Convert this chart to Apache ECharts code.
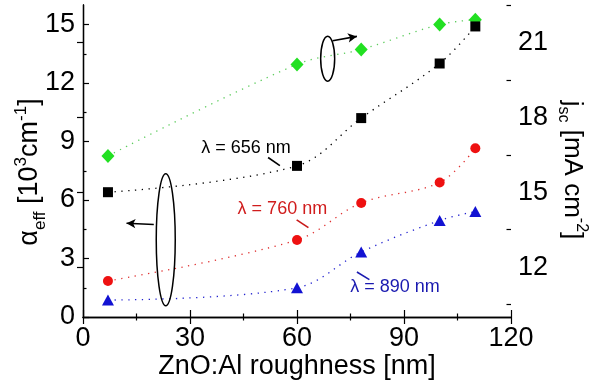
<!DOCTYPE html>
<html><head><meta charset="utf-8">
<script src="https://cdn.jsdelivr.net/npm/echarts@6/dist/echarts.min.js"></script>
<style>html,body{margin:0;padding:0;background:#fff}#c{width:600px;height:391px}</style>
</head><body><div id="c"></div>
<script>
// ---- data ----
const roughness = [7, 60, 78, 100, 110];
const alpha656 = [6.4, 7.75, 10.2, 13.0, 14.9];
const alpha760 = [1.85, 3.95, 5.85, 6.9, 8.65];
const alpha890 = [0.87, 1.5, 3.33, 4.95, 5.41];
const jscValues = [16.45, 20.12, 20.72, 21.72, 21.91];
const leftTicks = [0, 3, 6, 9, 12, 15];
const leftMinor = [1.5, 4.5, 7.5, 10.5, 13.5];
const rightTicks = [12, 15, 18, 21];
const rightMinor = [10.5, 13.5, 16.5, 19.5, 22.5];
const seriesNames = ['λ = 656 nm', 'λ = 760 nm', 'λ = 890 nm', 'jsc'];

const FONT = 'Liberation Sans, Arial, sans-serif';
const pairs = v => roughness.map((x, i) => [x, v[i]]);

const chart = echarts.init(document.getElementById('c'), null, {renderer: 'canvas'});

const axisLine = {show: true, lineStyle: {color: '#000', width: 1.3}};
const lbl = {fontFamily: FONT, fontSize: 27, color: '#000'};

function dotted(color) { return {color: color, width: 1.3, type: [1.3, 5.5]}; }

const option = {
  animation: false,
  backgroundColor: '#fff',
  grid: {left: 83, right: 89, top: 5, bottom: 74, show: false},
  xAxis: [
    {type: 'value', min: 0, max: 120, interval: 30, position: 'bottom',
     axisLine: axisLine, axisTick: {inside: true, length: 7, lineStyle: {color: '#000', width: 1.2}},
     minorTick: {show: true, splitNumber: 2, length: 3.5, lineStyle: {color: '#000', width: 1.2}},
     axisLabel: Object.assign({margin: 8}, lbl), splitLine: {show: false}},
    {type: 'value', min: 0, max: 120, interval: 30, position: 'top',
     axisLine: axisLine, axisTick: {inside: true, length: 7, lineStyle: {color: '#000', width: 1.2}},
     minorTick: {show: true, splitNumber: 2, length: 3.5, lineStyle: {color: '#000', width: 1.2}},
     axisLabel: {show: false}, splitLine: {show: false}}
  ],
  yAxis: [
    {type: 'value', min: 0, max: 16, position: 'left',
     axisLine: axisLine,
     axisTick: {inside: true, length: 6, customValues: leftTicks, lineStyle: {color: '#000', width: 1.2}},
     axisLabel: Object.assign({margin: 8, customValues: leftTicks}, lbl), splitLine: {show: false}},
    {type: 'value', min: 10, max: 22.5, position: 'right',
     axisLine: axisLine,
     axisTick: {inside: true, length: 6, customValues: rightTicks, lineStyle: {color: '#000', width: 1.2}},
     axisLabel: Object.assign({margin: 7, customValues: rightTicks}, lbl), splitLine: {show: false}},
    {type: 'value', min: 10, max: 22.5, position: 'right',
     axisLine: {show: false},
     axisTick: {inside: true, length: 4.5, customValues: rightMinor, lineStyle: {color: '#000', width: 1.2}},
     axisLabel: {show: false}, splitLine: {show: false}},
    {type: 'value', min: 0, max: 16, position: 'left',
     axisLine: {show: false},
     axisTick: {inside: true, length: 3.5, customValues: leftMinor, lineStyle: {color: '#000', width: 1.2}},
     axisLabel: {show: false}, splitLine: {show: false}}
  ],
  series: [
    {name: seriesNames[3], type: 'line', xAxisIndex: 0, yAxisIndex: 1, data: pairs(jscValues),
     smooth: 0.35, symbol: 'diamond', symbolSize: [13, 14],
     itemStyle: {color: '#22e022'}, lineStyle: dotted('#5ccc5c'), z: 3},
    {name: seriesNames[0], type: 'line', xAxisIndex: 0, yAxisIndex: 0, data: pairs(alpha656),
     smooth: 0.35, symbol: 'rect', symbolSize: 10,
     itemStyle: {color: '#000'}, lineStyle: dotted('#000'), z: 3,
     markLine: {silent: true, animation: false, symbol: ['none', 'arrow'], symbolSize: [7, 9],
       label: {show: false}, lineStyle: {color: '#000', type: 'solid', width: 1.6},
       data: [
         [{coord: [70.0, 14.17]}, {coord: [76.8, 14.39]}],
         [{coord: [19.85, 4.74]}, {coord: [12.2, 4.81]}],
         [{coord: [51.9, 8.18], symbol: 'none'}, {coord: [55.2, 7.76], symbol: 'none'}]
       ]}},
    {name: seriesNames[1], type: 'line', xAxisIndex: 0, yAxisIndex: 0, data: pairs(alpha760),
     smooth: 0.35, symbol: 'circle', symbolSize: 10,
     itemStyle: {color: '#ee1111'}, lineStyle: dotted('#e03030'), z: 3,
     markLine: {silent: true, animation: false, symbol: 'none',
       label: {show: false}, lineStyle: {color: '#c81818', type: 'solid', width: 1.6},
       data: [[{coord: [59.9, 4.98]}, {coord: [63.2, 4.58]}]]}},
    {name: seriesNames[2], type: 'line', xAxisIndex: 0, yAxisIndex: 0, data: pairs(alpha890),
     smooth: 0.35, symbol: 'triangle', symbolSize: [12, 11],
     itemStyle: {color: '#1212d2'}, lineStyle: dotted('#2222d0'), z: 3,
     markLine: {silent: true, animation: false, symbol: 'none',
       label: {show: false}, lineStyle: {color: '#1a1ab0', type: 'solid', width: 1.6},
       data: [[{coord: [76.8, 2.31]}, {coord: [80.3, 1.92]}]]}}
  ]
};
chart.setOption(option);

// annotations anchored in data units (left axis)
const annoTexts = [
  {text: 'λ = 656 nm', at: [45.7, 8.67], color: '#000'},
  {text: 'λ = 760 nm', at: [55.9, 5.56], color: '#d01c1c'},
  {text: 'λ = 890 nm', at: [87.5, 1.55], color: '#1a1ab0'}
];
const annoEllipses = [
  {at: [68.6, 13.25], rx: 7, ry: 22.5},
  {at: [23.2, 3.96], rx: 9.5, ry: 66}
];
const px = p => chart.convertToPixel({xAxisIndex: 0, yAxisIndex: 0}, p);
const g = [];
annoTexts.forEach(a => {
  const p = px(a.at);
  g.push({type: 'text', x: p[0], y: p[1], z: 10,
    style: {text: a.text, fill: a.color, font: '18px ' + FONT, align: 'center', verticalAlign: 'middle'}});
});
annoEllipses.forEach(e => {
  const p = px(e.at);
  g.push({type: 'ellipse', z: 10, shape: {cx: p[0], cy: p[1], rx: e.rx, ry: e.ry},
    style: {fill: 'none', stroke: '#000', lineWidth: 1.5}});
});
// axis titles
g.push({type: 'text', x: 297, y: 367, z: 10,
  style: {text: 'ZnO:Al roughness [nm]', fill: '#000', font: '27px ' + FONT, align: 'center', verticalAlign: 'middle'}});
g.push({type: 'text', x: 30, y: 172, rotation: Math.PI / 2, z: 10,
  style: {text: '{a|α}{s|eff}{a| [10}{p|3}{a|cm}{p|-1}{a|]}', align: 'center', verticalAlign: 'middle',
    rich: {
      a: {fontFamily: FONT, fontSize: 27, fill: '#000', lineHeight: 34, verticalAlign: 'middle'},
      s: {fontFamily: FONT, fontSize: 17, fill: '#000', lineHeight: 17, verticalAlign: 'bottom', padding: [0, 0, -2, 0]},
      p: {fontFamily: FONT, fontSize: 17, fill: '#000', lineHeight: 17, verticalAlign: 'top'}
    }}});
g.push({type: 'text', x: 572, y: 170, rotation: -Math.PI / 2, z: 10,
  style: {text: '{a|j}{s|sc}{a| [mA cm}{p|-2}{a|]}', align: 'center', verticalAlign: 'middle',
    rich: {
      a: {fontFamily: FONT, fontSize: 26, fill: '#000', lineHeight: 34, verticalAlign: 'middle'},
      s: {fontFamily: FONT, fontSize: 16, fill: '#000', lineHeight: 16, verticalAlign: 'bottom'},
      p: {fontFamily: FONT, fontSize: 16, fill: '#000', lineHeight: 16, verticalAlign: 'top'}
    }}});
chart.setOption({graphic: g});
</script>
</body></html>
